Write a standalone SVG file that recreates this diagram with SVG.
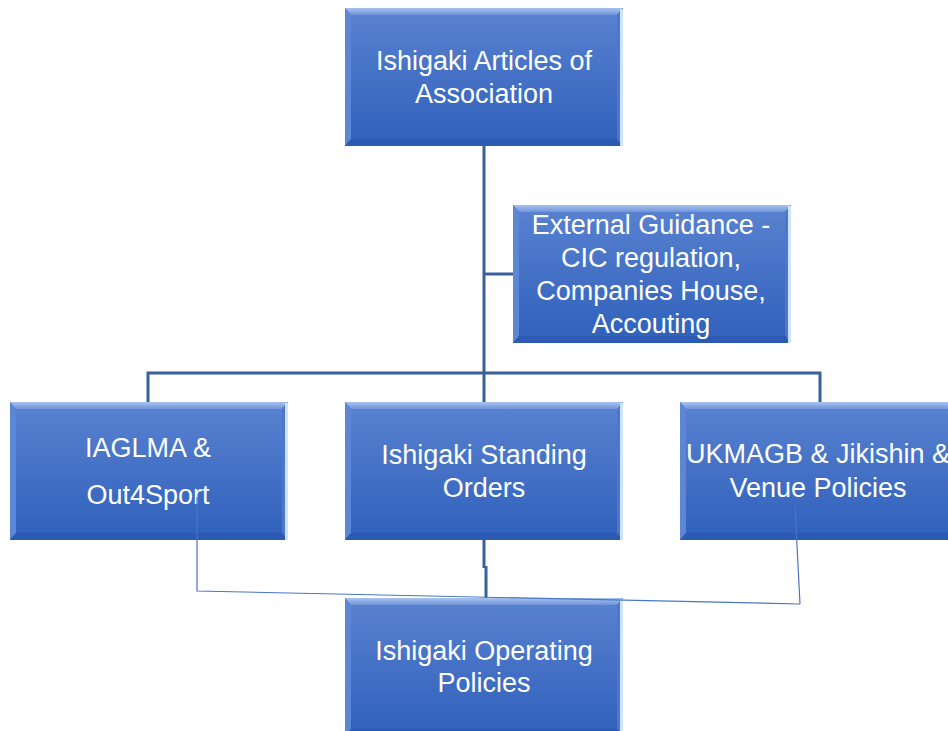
<svg xmlns="http://www.w3.org/2000/svg" xmlns:xlink="http://www.w3.org/1999/xlink" width="948" height="731" viewBox="0 0 948 731">
<style>
.t{font-family:"Liberation Sans",Arial,sans-serif;font-size:27px;fill:#ffffff;text-anchor:middle}
.c{fill:none;stroke:#3b5e9c;stroke-width:3}
.th{fill:none;stroke:#4a76c6;stroke-width:1.2}
</style>
<defs>
<linearGradient id="g" x1="0" y1="0" x2="0" y2="1">
<stop offset="0" stop-color="#5a82d0"/>
<stop offset="1" stop-color="#2f60bb"/>
</linearGradient>
<linearGradient id="gt" x1="0" y1="0" x2="0" y2="1">
<stop offset="0" stop-color="#a8c3ee"/>
<stop offset="1" stop-color="#6f94db"/>
</linearGradient>
<symbol id="box" viewBox="0 0 278 138" width="278" height="138">
<rect x="0" y="0" width="278" height="138" fill="url(#g)"/>
<polygon points="0,0 278,0 272,7 6,7" fill="url(#gt)"/>
<polygon points="0,0 6,7 6,131 0,138" fill="#5d86d4"/>
<polygon points="278,0 278,138 272,131 272,7" fill="#4a78cc"/>
<polygon points="0,138 278,138 272,131 6,131" fill="#2c5ab2"/>
<rect x="275" y="1" width="3" height="137" fill="#cfe3fa"/>
</symbol>
</defs>
<rect width="948" height="731" fill="#ffffff"/>
<g id="n1"><use xlink:href="#box" x="345" y="8"/>
<text class="t"><tspan x="484" y="70">Ishigaki Articles of</tspan><tspan x="484" y="103">Association</tspan></text></g>
<g id="n2"><use xlink:href="#box" x="513" y="205"/>
<text class="t"><tspan x="651" y="234">External Guidance -</tspan><tspan x="651" y="267">CIC regulation,</tspan><tspan x="651" y="300">Companies House,</tspan><tspan x="651" y="333">Accouting</tspan></text></g>
<g id="n3"><use xlink:href="#box" x="10" y="402"/>
<text class="t"><tspan x="148" y="457">IAGLMA &amp;</tspan><tspan x="148" y="504">Out4Sport</tspan></text></g>
<g id="n4"><use xlink:href="#box" x="345" y="402"/>
<text class="t"><tspan x="484" y="464">Ishigaki Standing</tspan><tspan x="484" y="497">Orders</tspan></text></g>
<g id="n5"><use xlink:href="#box" x="680" y="402"/>
<text class="t"><tspan x="818" y="463">UKMAGB &amp; Jikishin &amp;</tspan><tspan x="818" y="497">Venue Policies</tspan></text></g>
<g id="n6"><use xlink:href="#box" x="345" y="598"/>
<text class="t"><tspan x="484" y="660">Ishigaki Operating</tspan><tspan x="484" y="692">Policies</tspan></text></g>
<g id="connectors">
<path class="c" d="M484,146 V402"/>
<path class="c" d="M484,274 H513"/>
<path class="c" d="M148,402 V373 H820 V402"/>
<path class="c" d="M484,540 V568 M486,566 V598"/>
<path class="th" d="M197,497 V591 L800,604 M795,506 L800,604"/>
</g>
</svg>
